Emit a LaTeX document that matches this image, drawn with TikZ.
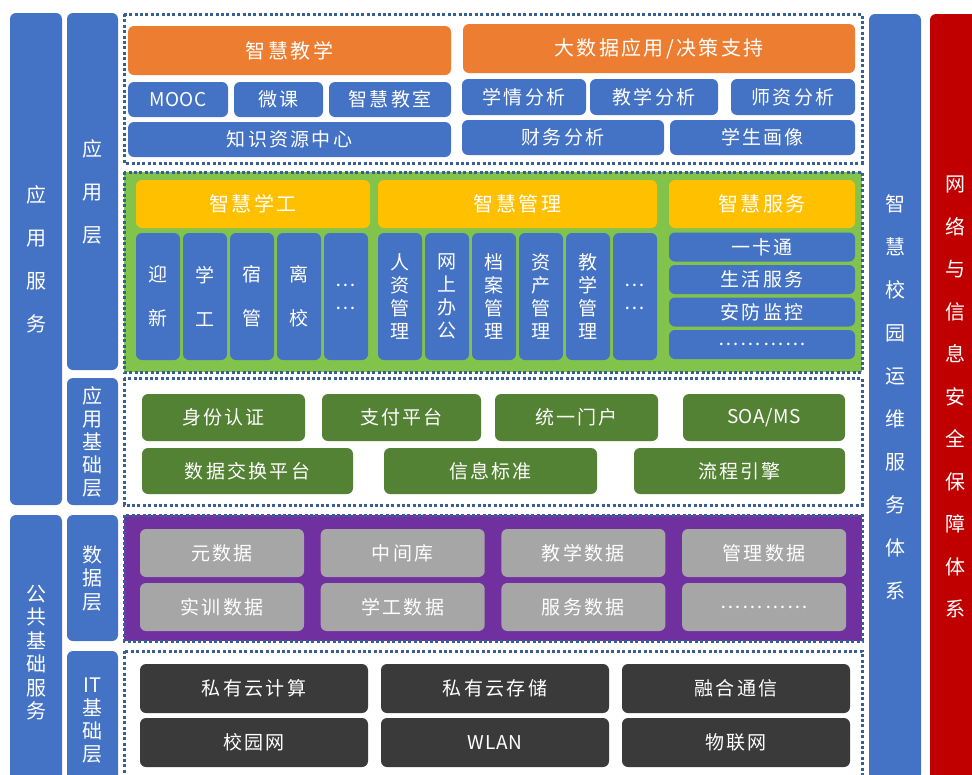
\documentclass[tikz,border=0pt]{standalone}
\usepackage{fontspec}
\setmainfont[LetterSpace=12]{Noto Sans CJK SC}
\newcommand{\latn}{\addfontfeature{LetterSpace=3}}
\definecolor{colblue}{HTML}{4472C4}
\definecolor{orangehd}{HTML}{ED7D31}
\definecolor{yellowhd}{HTML}{FFC000}
\definecolor{lgreen}{RGB}{130,195,75}
\definecolor{dgreen}{HTML}{548235}
\definecolor{purplebg}{HTML}{7030A0}
\definecolor{grayb}{HTML}{A6A6A6}
\definecolor{darkb}{HTML}{3A3A3A}
\definecolor{redcol}{HTML}{C00000}
\definecolor{dotblue}{RGB}{55,95,148}
\tikzset{
    box/.style={rounded corners=6pt,inner sep=0pt},
    bluebox/.style={box,fill=colblue},
    orangebox/.style={box,fill=orangehd,font=\fontsize{20}{24}\selectfont},
    yellowbox/.style={box,fill=yellowhd,font=\fontsize{20}{24}\selectfont},
    greenbox/.style={box,fill=dgreen},
    graybox/.style={box,fill=grayb,minimum width=164pt,minimum height=48pt},
    darkbox/.style={box,fill=darkb,minimum width=228pt,minimum height=49pt},
    colbox/.style={box,fill=colblue,align=center},
    frame/.style={draw=dotblue,line width=3pt,dash pattern=on 3pt off 2.4pt}
}
\begin{document}
\begin{tikzpicture}[x=1pt,y=-1pt,
    every node/.style={text=white,font=\fontsize{19}{23}\selectfont}]
\clip (0,0) rectangle (972,774);

    %Columnas laterales
    \node[colbox,minimum width=52pt,minimum height=492pt,font=\fontsize{20}{43}\selectfont] (svc) at (36,259) {应\\用\\服\\务};
    \node[colbox,minimum width=52pt,minimum height=275pt,font=\fontsize{20}{23.5}\selectfont] (pub) at (36,652.5) {公\\共\\基\\础\\服\\务};
    \node[colbox,minimum width=51pt,minimum height=357pt,font=\fontsize{20}{43}\selectfont] (lapp) at (92.5,191.5) {应\\用\\层};
    \node[colbox,minimum width=51pt,minimum height=127pt,font=\fontsize{20}{23}\selectfont] (lbase) at (92.5,441.5) {应\\用\\基\\础\\层};
    \node[colbox,minimum width=51pt,minimum height=126pt,font=\fontsize{20}{23.5}\selectfont] (ldata) at (92.5,578) {数\\据\\层};
    \node[colbox,minimum width=51pt,minimum height=139pt,font=\fontsize{20}{23}\selectfont] (lit) at (92.5,720.5) {{\latn IT}\\基\\础\\层};
    \node[colbox,minimum width=52pt,minimum height=766pt,font=\fontsize{20}{43}\selectfont] (ops) at (895,397) {智\\慧\\校\\园\\运\\维\\服\\务\\体\\系};
    \node[colbox,fill=redcol,minimum width=50pt,minimum height=766pt,font=\fontsize{20}{42.5}\selectfont] (sec) at (955,397) {网\\络\\与\\信\\息\\安\\全\\保\\障\\体\\系};

    %Marcos
    \draw[frame] (124,14) rectangle (862,163);
    \draw[frame,fill=lgreen] (124,172) rectangle (862,372);
    \draw[frame] (124,378) rectangle (862,505);
    \draw[frame,fill=purplebg] (124,515) rectangle (862,641);
    \draw[frame] (124,651) rectangle (862,790);

    %Aplicaciones
    \node[orangebox,minimum width=323pt,minimum height=49pt] (teach) at (289.5,50.5) {智慧教学};
    \node[orangebox,minimum width=392pt,minimum height=49pt] (bigdata) at (659,48.5) {大数据应用/决策支持};
    \node[bluebox,minimum width=100pt,minimum height=35pt] (mooc) at (178,99.5) {\latn MOOC};
    \node[bluebox,minimum width=89pt,minimum height=35pt] (micro) at (278.5,99.5) {微课};
    \node[bluebox,minimum width=122pt,minimum height=35pt] (room) at (390,99.5) {智慧教室};
    \node[bluebox,minimum width=323pt,minimum height=35pt] (know) at (289.5,139.5) {知识资源中心};
    \node[bluebox,minimum width=124pt,minimum height=36pt] (an1) at (524,97) {学情分析};
    \node[bluebox,minimum width=128pt,minimum height=36pt] (an2) at (654,97) {教学分析};
    \node[bluebox,minimum width=124pt,minimum height=36pt] (an3) at (793,97) {师资分析};
    \node[bluebox,minimum width=202pt,minimum height=35pt] (an4) at (563,137.5) {财务分析};
    \node[bluebox,minimum width=185pt,minimum height=35pt] (an5) at (762.5,137.5) {学生画像};

    \node[yellowbox,minimum width=234pt,minimum height=48pt] (work) at (253,204) {智慧学工};
    \node[yellowbox,minimum width=279pt,minimum height=48pt] (mgmt) at (517.5,204) {智慧管理};
    \node[yellowbox,minimum width=186pt,minimum height=48pt] (serv) at (762,204) {智慧服务};
    \foreach \t [count=\i] in {{迎\\[21pt]新},{学\\[21pt]工},{宿\\[21pt]管},{离\\[21pt]校},{…\\…}}{
        \node[bluebox,minimum width=44pt,minimum height=127pt,align=center] (xg\i) at ({158+47*(\i-1)},296.5) {\t};
    }
    \foreach \t [count=\i] in {{人\\资\\管\\理},{网\\上\\办\\公},{档\\案\\管\\理},{资\\产\\管\\理},{教\\学\\管\\理},{…\\…}}{
        \node[bluebox,minimum width=44pt,minimum height=127pt,align=center] (gl\i) at ({400+47*(\i-1)},296.5) {\t};
    }
    \foreach \t [count=\i] in {一卡通,生活服务,安防监控,…………}{
        \node[bluebox,minimum width=186pt,minimum height=29pt] (fw\i) at (762,{247+32.5*(\i-1)}) {\t};
    }

    %Base de aplicaciones
    \node[greenbox,minimum width=163pt,minimum height=47pt] (auth) at (223.5,417.5) {身份认证};
    \node[greenbox,minimum width=159pt,minimum height=47pt] (pay) at (401.5,417.5) {支付平台};
    \node[greenbox,minimum width=163pt,minimum height=47pt] (portal) at (576.5,417.5) {统一门户};
    \node[greenbox,minimum width=162pt,minimum height=47pt] (soa) at (764,417.5) {\latn SOA/MS};
    \node[greenbox,minimum width=211pt,minimum height=46pt] (exch) at (247.5,471) {数据交换平台};
    \node[greenbox,minimum width=213pt,minimum height=46pt] (std) at (490.5,471) {信息标准};
    \node[greenbox,minimum width=211pt,minimum height=46pt] (flow) at (739.5,471) {流程引擎};

    %Datos
    \foreach \t [count=\i] in {元数据,中间库,教学数据,管理数据}{
        \node[graybox] (da\i) at ({222+180.7*(\i-1)},553) {\t};
    }
    \foreach \t [count=\i] in {实训数据,学工数据,服务数据,…………}{
        \node[graybox] (db\i) at ({222+180.7*(\i-1)},607) {\t};
    }

    %Infraestructura IT
    \foreach \t [count=\i] in {私有云计算,私有云存储,融合通信}{
        \node[darkbox] (ia\i) at ({254+241*(\i-1)},688.5) {\t};
    }
    \foreach \t [count=\i] in {校园网,{\latn WLAN},物联网}{
        \node[darkbox] (ib\i) at ({254+241*(\i-1)},742.5) {\t};
    }
\end{tikzpicture}
\end{document}
